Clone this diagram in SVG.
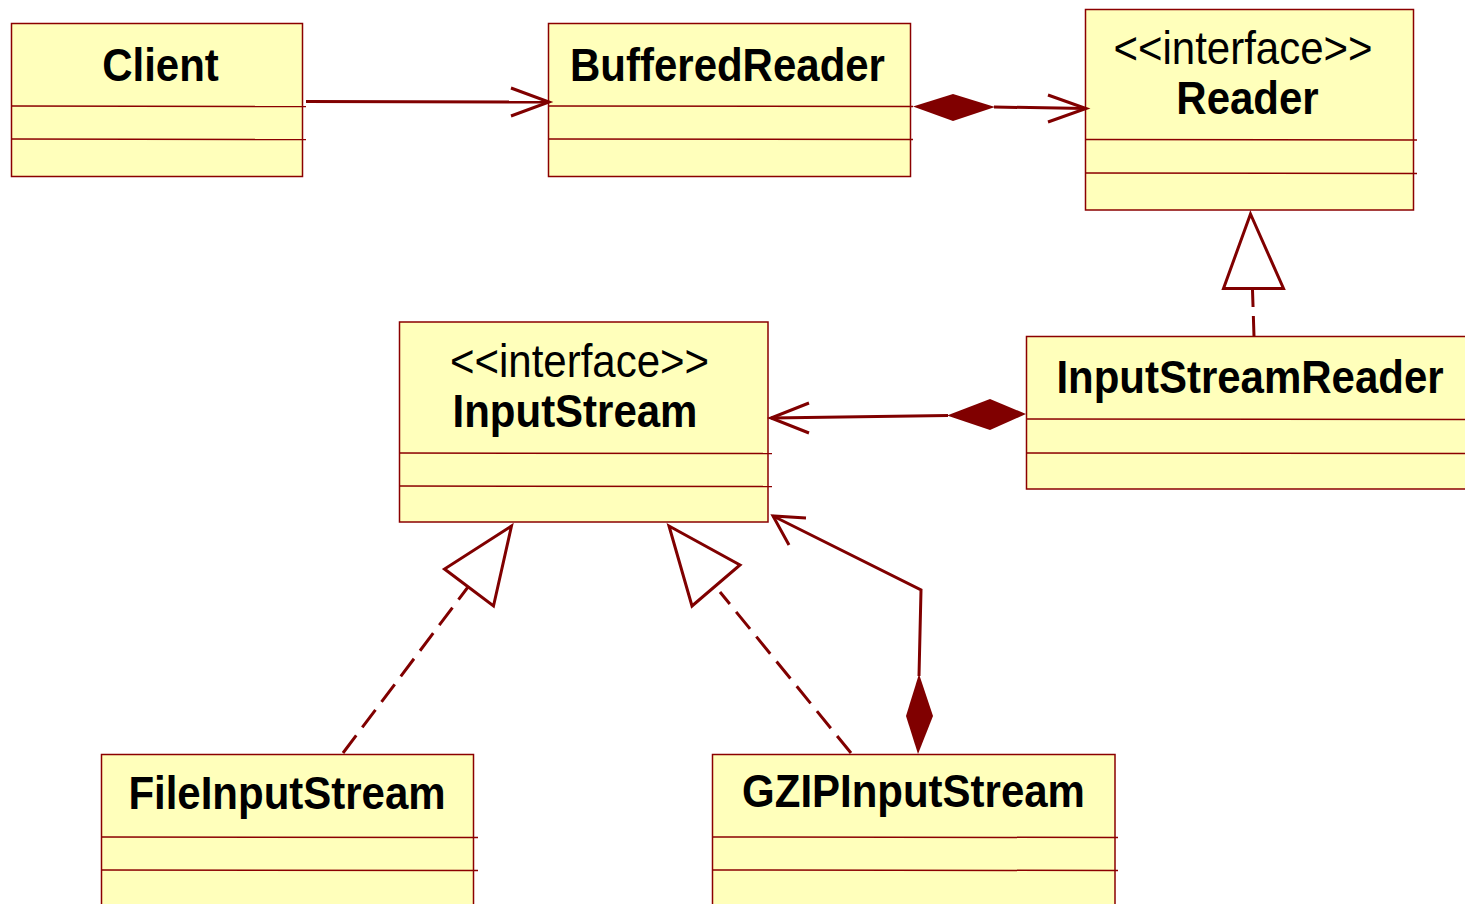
<svg xmlns="http://www.w3.org/2000/svg" width="1465" height="904" viewBox="0 0 1465 904">
<style>
.box{fill:#FFFFBB;stroke:#8B0000;stroke-width:1.5}
.sep{stroke:#8B0000;stroke-width:1.5;fill:none}
.name{font-family:"Liberation Sans",Arial,sans-serif;font-weight:bold;font-size:42px;fill:#000;text-anchor:middle}
.stereo{font-family:"Liberation Sans",Arial,sans-serif;font-size:42px;fill:#000;text-anchor:middle}
.ln{stroke:#800000;stroke-width:3;fill:none}
.dash{stroke:#800000;stroke-width:3;fill:none;stroke-dasharray:22,10}
.dia{fill:#800000;stroke:none}
.tri{fill:#fff;stroke:#800000;stroke-width:3;stroke-linejoin:miter}
</style>
<rect width="1465" height="904" fill="#fff"/>
<g id="Client">
<rect class="box" x="11.5" y="23.5" width="291" height="153"/>
<line class="sep" x1="11.5" y1="106" x2="306" y2="106.5"/>
<line class="sep" x1="11.5" y1="139" x2="306" y2="139.5"/>
<text class="name" transform="translate(160.5,81) scale(1,1.1)">Client</text>
</g>
<g id="BufferedReader">
<rect class="box" x="548.5" y="23.5" width="362" height="153"/>
<line class="sep" x1="548.5" y1="106" x2="913" y2="106.5"/>
<line class="sep" x1="548.5" y1="139" x2="913" y2="139.5"/>
<text class="name" transform="translate(727.5,81) scale(1,1.1)">BufferedReader</text>
</g>
<g id="Reader">
<rect class="box" x="1085.5" y="9.5" width="328" height="200.5"/>
<line class="sep" x1="1085.5" y1="139.5" x2="1417" y2="140"/>
<line class="sep" x1="1085.5" y1="173" x2="1417" y2="173.5"/>
<text class="stereo" transform="translate(1243,64) scale(1,1.1)">&lt;&lt;interface&gt;&gt;</text>
<text class="name" transform="translate(1247.5,114) scale(1,1.1)">Reader</text>
</g>
<g id="InputStreamReader">
<rect class="box" x="1026.5" y="336.5" width="445" height="152.5"/>
<line class="sep" x1="1026.5" y1="419" x2="1470" y2="419.5"/>
<line class="sep" x1="1026.5" y1="453" x2="1470" y2="453.5"/>
<text class="name" transform="translate(1250,393) scale(1,1.1)">InputStreamReader</text>
</g>
<g id="InputStream">
<rect class="box" x="399.5" y="322" width="368.5" height="200"/>
<line class="sep" x1="399.5" y1="453" x2="772" y2="453.5"/>
<line class="sep" x1="399.5" y1="486" x2="772" y2="486.5"/>
<text class="stereo" transform="translate(579.5,377) scale(1,1.1)">&lt;&lt;interface&gt;&gt;</text>
<text class="name" transform="translate(575,427) scale(1,1.1)">InputStream</text>
</g>
<g id="FileInputStream">
<rect class="box" x="101.5" y="754.5" width="372" height="160"/>
<line class="sep" x1="101.5" y1="837" x2="478" y2="837.5"/>
<line class="sep" x1="101.5" y1="870" x2="478" y2="870.5"/>
<text class="name" transform="translate(287,809) scale(1,1.1)">FileInputStream</text>
</g>
<g id="GZIPInputStream">
<rect class="box" x="712.5" y="754.5" width="402.5" height="160"/>
<line class="sep" x1="712.5" y1="837" x2="1118" y2="837.5"/>
<line class="sep" x1="712.5" y1="870" x2="1118" y2="870.5"/>
<text class="name" transform="translate(913.5,807) scale(1,1.1)">GZIPInputStream</text>
</g>
<g id="connectors">
<!-- Client -> BufferedReader -->
<line class="ln" x1="306" y1="101.5" x2="549" y2="102"/>
<polyline class="ln" points="511,88 549,102 511,116"/>
<!-- BufferedReader <>-> Reader -->
<polygon class="dia" points="913,106.5 953,94 995,107 953,121"/>
<line class="ln" x1="994" y1="107" x2="1086" y2="108.5"/>
<polyline class="ln" points="1048,95 1086,108.5 1048,122"/>
<!-- InputStreamReader realizes Reader -->
<line class="dash" x1="1254" y1="336" x2="1252.5" y2="290" style="stroke-dasharray:20,9"/>
<polygon class="tri" points="1250.5,214 1283.5,288.5 1223.5,288.5"/>
<!-- InputStreamReader <>-> InputStream -->
<polygon class="dia" points="1026,414 990,399 947,415.5 990,430"/>
<line class="ln" x1="948" y1="415.5" x2="771" y2="418"/>
<polyline class="ln" points="809,403 771,418 809,433"/>
<!-- FileInputStream realizes InputStream -->
<line class="dash" x1="343" y1="753" x2="468" y2="587"/>
<polygon class="tri" points="511.5,526 493.5,606 444.5,569"/>
<!-- GZIPInputStream realizes InputStream -->
<line class="dash" x1="851" y1="753" x2="720" y2="592"/>
<polygon class="tri" points="669,526 740,565 692,606"/>
<!-- GZIPInputStream <>-> InputStream -->
<polygon class="dia" points="918,754 906,716 919,674 933,716"/>
<polyline class="ln" points="919,676 921,590 773,516"/>
<polyline class="ln" points="789,545 773,516 806,518"/>
</g>
</svg>
